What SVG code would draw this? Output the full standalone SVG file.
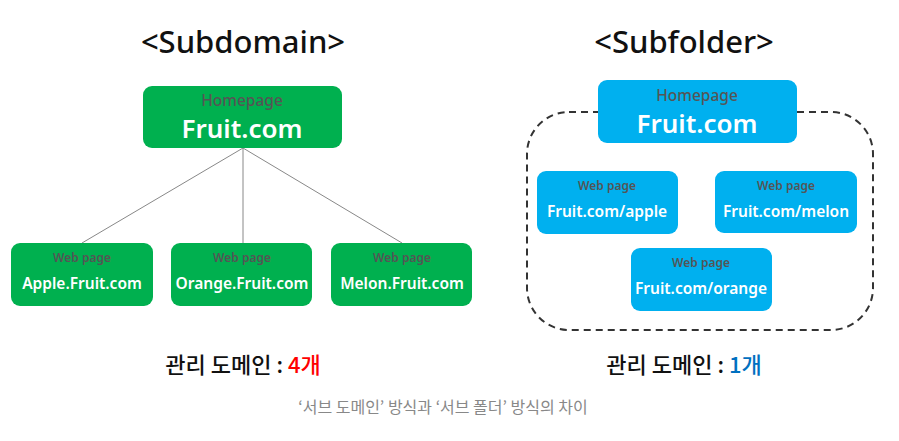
<svg xmlns="http://www.w3.org/2000/svg" width="899" height="441" viewBox="0 0 899 441">
<style>
.title{font-family:"Noto Sans","Noto Sans CJK KR",sans-serif;font-size:31px;font-weight:500;fill:#111;text-anchor:middle}
.green{fill:#00b04f}
.blue{fill:#00b0ef}
.small{font-family:"Noto Sans","Noto Sans CJK KR",sans-serif;font-size:15.5px;font-weight:500;fill:#555;text-anchor:middle}
.tiny{font-family:"Noto Sans","Noto Sans CJK KR",sans-serif;font-size:12px;font-weight:600;fill:#555;text-anchor:middle}
.big{font-family:"Noto Sans",sans-serif;font-size:26px;font-weight:600;fill:#fff;text-anchor:middle}
.mid{font-family:"Noto Sans",sans-serif;font-size:15.5px;font-weight:600;fill:#fff;text-anchor:middle}
.kr{font-family:"Noto Sans CJK KR",sans-serif;font-size:22px;font-weight:500;fill:#111;text-anchor:middle}
.cap{font-family:"Noto Sans CJK KR",sans-serif;font-size:16px;fill:#888;text-anchor:middle}
.conn{stroke:#888;stroke-width:1;fill:none}
</style>
<text class="title" x="243" y="53">&lt;Subdomain&gt;</text>
<text class="title" x="684" y="53">&lt;Subfolder&gt;</text>

<g id="connectors">
<line class="conn" x1="243" y1="148" x2="82" y2="243"/>
<line class="conn" x1="243" y1="148" x2="243" y2="243"/>
<line class="conn" x1="243" y1="148" x2="402" y2="243"/>
</g>

<g id="sub-home">
<rect class="green" x="143" y="86" width="199" height="62" rx="9"/>
<text class="small" x="242" y="106">Homepage</text>
<text class="big" x="242" y="138">Fruit.com</text>
</g>
<g id="sub-apple">
<rect class="green" x="11" y="243" width="142" height="63" rx="9"/>
<text class="tiny" x="82" y="262">Web page</text>
<text class="mid" x="82" y="289">Apple.Fruit.com</text>
</g>
<g id="sub-orange">
<rect class="green" x="171" y="243" width="141" height="63" rx="9"/>
<text class="tiny" x="242" y="262">Web page</text>
<text class="mid" x="242" y="289">Orange.Fruit.com</text>
</g>
<g id="sub-melon">
<rect class="green" x="331" y="243" width="141" height="63" rx="9"/>
<text class="tiny" x="402" y="262">Web page</text>
<text class="mid" x="402" y="289">Melon.Fruit.com</text>
</g>

<g id="folder-boundary">
<rect x="527" y="112" width="346" height="218" rx="42" fill="none" stroke="#333" stroke-width="2" stroke-dasharray="7,5"/>
</g>
<g id="fold-home">
<rect class="blue" x="598" y="80" width="199" height="63" rx="9"/>
<text class="small" x="697" y="101">Homepage</text>
<text class="big" x="697" y="133">Fruit.com</text>
</g>
<g id="fold-apple">
<rect class="blue" x="537" y="171" width="141" height="63" rx="9"/>
<text class="tiny" x="607" y="190">Web page</text>
<text class="mid" x="607" y="217">Fruit.com/apple</text>
</g>
<g id="fold-melon">
<rect class="blue" x="715" y="171" width="142" height="62" rx="9"/>
<text class="tiny" x="786" y="190">Web page</text>
<text class="mid" x="786" y="217">Fruit.com/melon</text>
</g>
<g id="fold-orange">
<rect class="blue" x="631" y="248" width="141" height="63" rx="9"/>
<text class="tiny" x="701" y="267">Web page</text>
<text class="mid" x="701" y="294">Fruit.com/orange</text>
</g>

<text class="kr" x="243" y="373">관리 도메인 : <tspan fill="#ff0000">4개</tspan></text>
<text class="kr" x="684" y="373">관리 도메인 : <tspan fill="#0070c0">1개</tspan></text>
<text class="cap" x="443" y="413">‘서브 도메인’ 방식과 ‘서브 폴더’ 방식의 차이</text>
</svg>
